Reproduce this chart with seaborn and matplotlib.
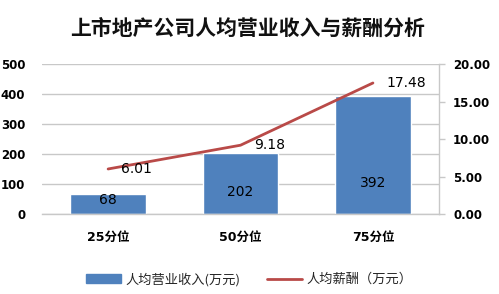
import numpy as np
import pandas as pd
import matplotlib
matplotlib.use("Agg")
import matplotlib.pyplot as plt
import seaborn as sns
from matplotlib.patches import Patch
from matplotlib.lines import Line2D

categories = ["25分位", "50分位", "75分位"]
revenue = [68, 202, 392]          # 人均营业收入(万元)
salary = [6.01, 9.18, 17.48]      # 人均薪酬(万元)
left_ticks = [0, 100, 200, 300, 400, 500]
right_ticks = [0, 5, 10, 15, 20]
title = "上市地产公司人均营业收入与薪酬分析"
legend_labels = ["人均营业收入(万元)", "人均薪酬（万元）"]

sns.set_theme(style="white")
plt.rcParams['font.family'] = ['DejaVu Sans', 'Noto Sans CJK SC']
CJK = ['Noto Sans CJK SC', 'DejaVu Sans']
NUM = ['DejaVu Sans', 'Noto Sans CJK SC']

bar_color = "#4F81BD"
line_color = "#B94A48"
grid_color = "#C8C8C8"

fig = plt.figure(figsize=(4.99, 2.94), dpi=100)
ax = fig.add_axes([0.084, 0.272, 0.796, 0.510])

df = pd.DataFrame({"cat": categories, "rev": revenue})
sns.barplot(data=df, x="cat", y="rev", order=categories, color=bar_color,
            saturation=1, width=0.57, ax=ax, zorder=2)
ax.set_xlim(-0.5, len(categories) - 0.5)
ax.set_ylim(0, 500)
ax.set_yticks(left_ticks)
ax.set_yticklabels([str(t) for t in left_ticks], fontsize=8.5, fontweight='bold',
                   family=NUM, color='black')
ax.set_xticks(range(len(categories)))
ax.set_xticklabels(categories, fontsize=9, fontweight='bold', family=NUM, color='black')
ax.tick_params(axis='x', length=0, pad=12)
ax.tick_params(axis='y', length=0, pad=12)
ax.set_xlabel("")
ax.set_ylabel("")
ax.yaxis.grid(True, color=grid_color, linewidth=1.0, zorder=0)
ax.set_axisbelow(True)
for s in ["top", "left", "right"]:
    ax.spines[s].set_visible(False)
ax.spines["bottom"].set_color(grid_color)
ax.spines["bottom"].set_linewidth(1.0)

# bar labels
label_y = [47, 73, 103]
for i, v in enumerate(revenue):
    ax.text(i, label_y[i], str(v), ha='center', va='center', fontsize=10,
            color='black', family=NUM, zorder=5)

ax2 = ax.twinx()
ldf = pd.DataFrame({"pos": list(range(len(categories))), "sal": salary})
sns.lineplot(data=ldf, x="pos", y="sal", color=line_color, linewidth=2.0, ax=ax2,
             zorder=4)
ax2.set_ylim(0, 20)
ax2.set_xlim(-0.5, len(categories) - 0.5)
ax2.set_yticks(right_ticks)
ax2.set_yticklabels([f"{t:.2f}" for t in right_ticks], fontsize=8.5, fontweight='bold',
                    family=NUM, color='black')
ax2.tick_params(axis='y', length=4, width=1, color=grid_color, pad=6, direction='out')
ax2.set_ylabel("")
ax2.set_xlabel("")
for s in ["top", "left", "bottom"]:
    ax2.spines[s].set_visible(False)
ax2.spines["right"].set_color(grid_color)
ax2.spines["right"].set_linewidth(1.0)

for i, v in enumerate(salary):
    ax2.text(i + 0.10, v, f"{v:.2f}", ha='left', va='center', fontsize=10,
             color='black', family=NUM, zorder=6)

fig.text(0.497, 0.903, title, ha='center', va='center', fontsize=15,
         fontweight='bold', family=CJK, color='#111111')

handles = [Patch(facecolor=bar_color, edgecolor=bar_color),
           Line2D([0], [0], color=line_color, linewidth=2)]
fig.legend(handles, legend_labels, loc='center', bbox_to_anchor=(0.5, 0.05),
           ncol=2, frameon=False, prop={'family': CJK, 'size': 9.5, 'weight': 'medium'},
           handlelength=2.6, handleheight=0.6, columnspacing=2.0, handletextpad=0.4)

fig.savefig("out.png", dpi=100)
